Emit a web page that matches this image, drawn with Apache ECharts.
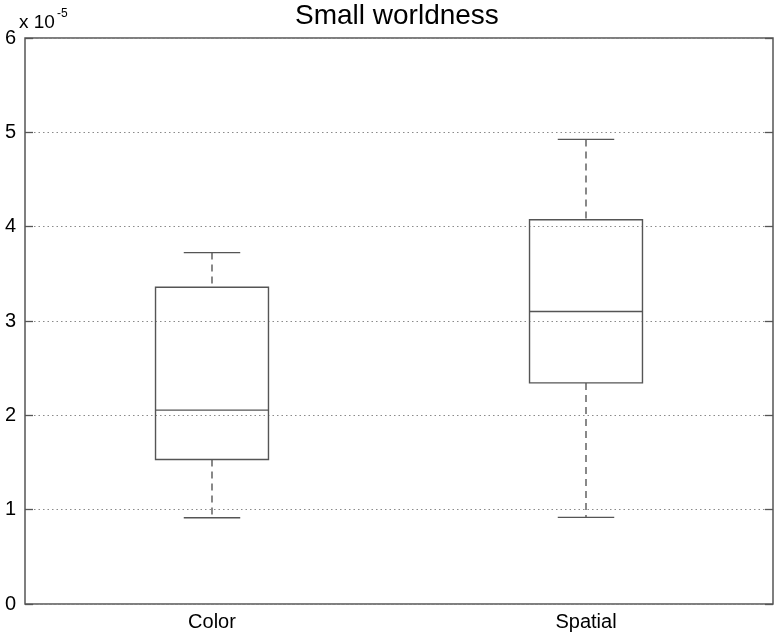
<!DOCTYPE html>
<html>
<head>
<meta charset="utf-8">
<script src="https://cdn.jsdelivr.net/npm/echarts@6/dist/echarts.min.js"></script>
<style>
html,body{margin:0;padding:0;background:#fff;}
#chart{width:774px;height:633px;}
</style>
</head>
<body>
<div id="chart"></div>
<script>
var categories = ['Color', 'Spatial'];
var whiskerLow = [0.914e-5, 0.918e-5];
var q1 = [1.532e-5, 2.344e-5];
var medians = [2.055e-5, 3.100e-5];
var q3 = [3.357e-5, 4.074e-5];
var whiskerHigh = [3.725e-5, 4.925e-5];
var yTicks = [0, 1, 2, 3, 4, 5, 6];

var FONT = "'Liberation Sans', Arial, Helvetica, sans-serif";
var rows = categories.map(function (c, i) {
  return [i, whiskerLow[i], q1[i], medians[i], q3[i], whiskerHigh[i]];
});

var chart = echarts.init(document.getElementById('chart'), null, {renderer: 'canvas'});
var lineColor = '#555';

function renderBox(params, api) {
  var idx = api.value(0);
  var pLow = api.coord([idx, api.value(1)]);
  var pQ1 = api.coord([idx, api.value(2)]);
  var pMed = api.coord([idx, api.value(3)]);
  var pQ3 = api.coord([idx, api.value(4)]);
  var pHigh = api.coord([idx, api.value(5)]);
  var bw = api.size([1, 0])[0] * 0.302;
  var hw = bw / 2;
  var cw = bw / 4;
  var cx = pMed[0];
  var solid = {stroke: lineColor, lineWidth: 1.4, fill: null};
  var dashed = {stroke: '#4a4a4a', lineWidth: 1.3, lineDash: [7, 5], fill: null};
  return {
    type: 'group',
    children: [
      {type: 'line', shape: {x1: cx, y1: pHigh[1], x2: cx, y2: pQ3[1]}, style: dashed},
      {type: 'line', shape: {x1: cx, y1: pQ1[1], x2: cx, y2: pLow[1]}, style: dashed},
      {type: 'line', shape: {x1: cx - cw, y1: pHigh[1], x2: cx + cw, y2: pHigh[1]}, style: solid},
      {type: 'line', shape: {x1: cx - cw, y1: pLow[1], x2: cx + cw, y2: pLow[1]}, style: solid},
      {type: 'rect', shape: {x: cx - hw, y: pQ3[1], width: bw, height: pQ1[1] - pQ3[1]}, style: solid},
      {type: 'line', shape: {x1: cx - hw, y1: pMed[1], x2: cx + hw, y2: pMed[1]}, style: solid}
    ]
  };
}

var option = {
  backgroundColor: '#fff',
  animation: false,
  textStyle: {fontFamily: FONT},
  title: {
    text: 'Small worldness',
    left: 290,
    top: -3,
    textStyle: {fontFamily: FONT, fontSize: 28, fontWeight: 'normal', color: '#000'}
  },
  graphic: [
    {type: 'text', left: 19, top: 13, style: {text: 'x 10', fontFamily: FONT, fontSize: 19, fill: '#000'}},
    {type: 'text', left: 57, top: 8, style: {text: '-5', fontFamily: FONT, fontSize: 12, fill: '#000'}}
  ],
  grid: {
    left: 25, right: 1, top: 38, bottom: 29,
    show: true, borderColor: '#555', borderWidth: 1.5, backgroundColor: '#fff'
  },
  xAxis: {
    type: 'category',
    data: categories,
    boundaryGap: true,
    axisLine: {show: false},
    axisTick: {show: false},
    axisLabel: {fontFamily: FONT, fontSize: 20, color: '#000', margin: 8},
    splitLine: {show: false}
  },
  yAxis: [{
    type: 'value',
    min: 0, max: 6e-5, interval: 1e-5,
    axisLine: {show: false},
    axisTick: {show: true, inside: true, length: 8, lineStyle: {color: '#555', width: 1.3}},
    axisLabel: {
      fontFamily: FONT, fontSize: 20, color: '#000', margin: 9,
      formatter: function (v) { return String(yTicks[Math.round(v * 1e5)]); }
    },
    splitLine: {show: true, lineStyle: {color: '#8a8a8a', type: [1.5, 3], width: 1}}
  }, {
    type: 'value',
    position: 'right',
    min: 0, max: 6e-5, interval: 1e-5,
    axisLine: {show: false},
    axisTick: {show: true, inside: true, length: 8, lineStyle: {color: '#555', width: 1.3}},
    axisLabel: {show: false},
    splitLine: {show: false}
  }],
  series: [{
    type: 'custom',
    renderItem: renderBox,
    encode: {x: 0, y: [1, 2, 3, 4, 5]},
    data: rows,
    z: 10
  }]
};
chart.setOption(option);
</script>
</body>
</html>
